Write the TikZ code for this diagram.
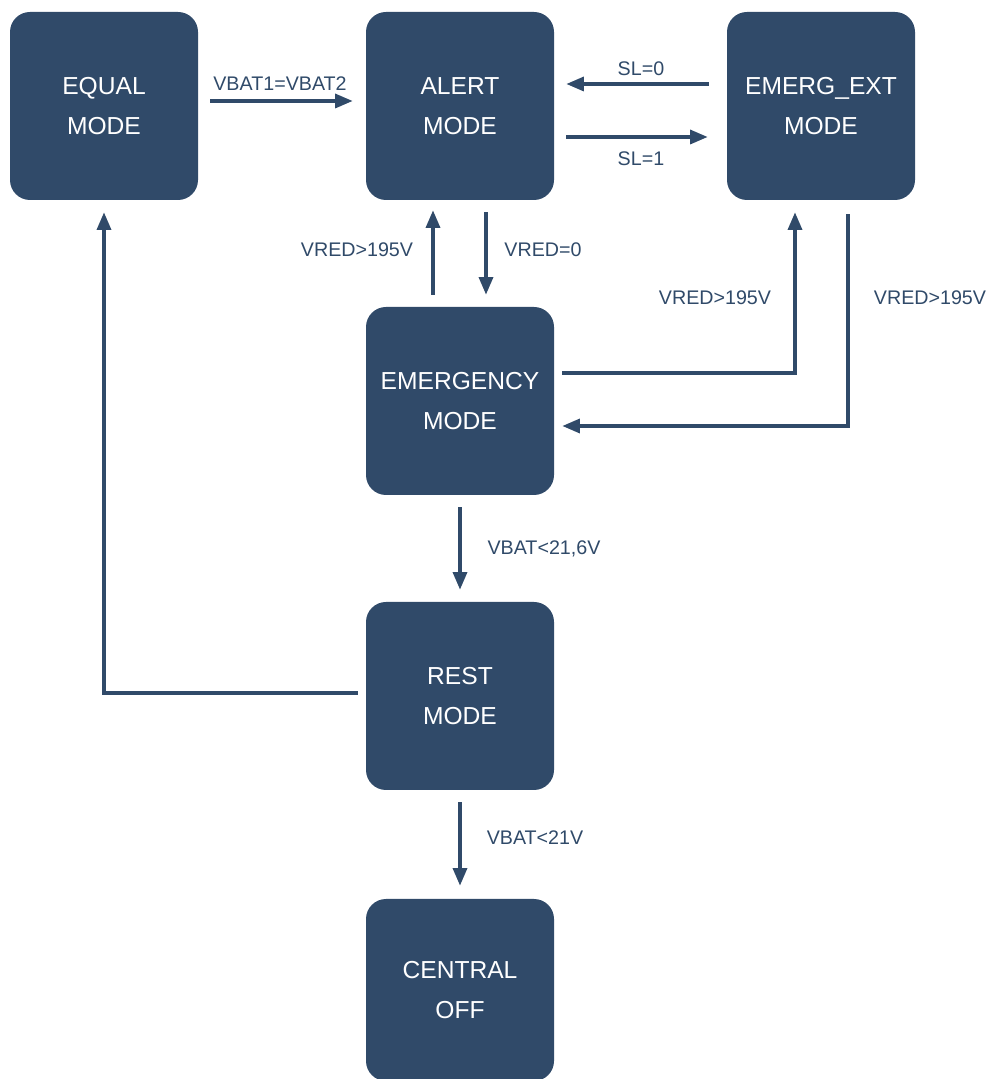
\documentclass[tikz,border=0pt]{standalone}
\usepackage{fontspec}
\setmainfont{Liberation Sans}
\usetikzlibrary{arrows.meta}
\definecolor{modeblue}{HTML}{304A69}

\begin{document}
\begin{tikzpicture}[
	mode/.style={rectangle, rounded corners=0.4cm, fill=modeblue, text=white, inner sep=0pt,
		minimum width=3.76cm, minimum height=3.76cm, align=center,
		font=\fontsize{14}{22.7}\selectfont},
	trans/.style={line width=1.8pt, color=modeblue, -{Triangle[length=10pt, width=8pt]}},
	cond/.style={text=modeblue, font=\fontsize{11.2}{13}\selectfont}
]
	\useasboundingbox (0, 0) rectangle (19.84, 21.58);

	\node[mode] (equal) at (2.08, 19.46) {EQUAL\\MODE};
	\node[mode] (alert) at (9.20, 19.46) {ALERT\\MODE};
	\node[mode] (emergext) at (16.42, 19.46) {EMERG\_EXT\\MODE};
	\node[mode] (emergency) at (9.20, 13.56) {EMERGENCY\\MODE};
	\node[mode] (rest) at (9.20, 7.66) {REST\\MODE};
	\node[mode, minimum height=3.64cm] (off) at (9.20, 1.78) {CENTRAL\\OFF};

	% Draw the transitions between modes
	\draw[trans, shorten <=0.24cm, shorten >=0.26cm] ([yshift=0.10cm]equal.east) -- ([yshift=0.10cm]alert.west);
	\draw[trans, shorten <=0.36cm, shorten >=0.24cm] ([yshift=0.44cm]emergext.west) -- ([yshift=0.44cm]alert.east);
	\draw[trans, shorten <=0.24cm, shorten >=0.38cm] ([yshift=-0.62cm]alert.east) -- ([yshift=-0.62cm]emergext.west);
	\draw[trans, shorten <=0.24cm, shorten >=0.20cm] ([xshift=-0.54cm]emergency.north) -- ([xshift=-0.54cm]alert.south);
	\draw[trans, shorten <=0.24cm, shorten >=0.24cm] ([xshift=0.52cm]alert.south) -- ([xshift=0.52cm]emergency.north);
	\draw[trans] ([shift={(0.16, 0.56)}]emergency.east) -| ([shift={(-0.52, -0.24)}]emergext.south);
	\draw[trans] ([shift={(0.54, -0.28)}]emergext.south) |- ([shift={(0.16, -0.50)}]emergency.east);
	\draw[trans, shorten <=0.24cm, shorten >=0.24cm] (emergency.south) -- (rest.north);
	\draw[trans] ([shift={(-0.16, 0.06)}]rest.west) -| ([yshift=-0.24cm]equal.south);
	\draw[trans, shorten <=0.24cm, shorten >=0.26cm] (rest.south) -- (off.north);

	\node[cond] (c1) at (5.60, 19.90) {VBAT1=VBAT2};
	\node[cond] (c2) at (12.82, 20.20) {SL=0};
	\node[cond] (c3) at (12.82, 18.40) {SL=1};
	\node[cond] (c4) at (7.14, 16.58) {VRED>195V};
	\node[cond] (c5) at (10.86, 16.58) {VRED=0};
	\node[cond] (c6) at (14.30, 15.62) {VRED>195V};
	\node[cond] (c7) at (18.60, 15.62) {VRED>195V};
	\node[cond] (c8) at (10.88, 10.60) {VBAT<21,6V};
	\node[cond] (c9) at (10.70, 4.82) {VBAT<21V};
\end{tikzpicture}
\end{document}
